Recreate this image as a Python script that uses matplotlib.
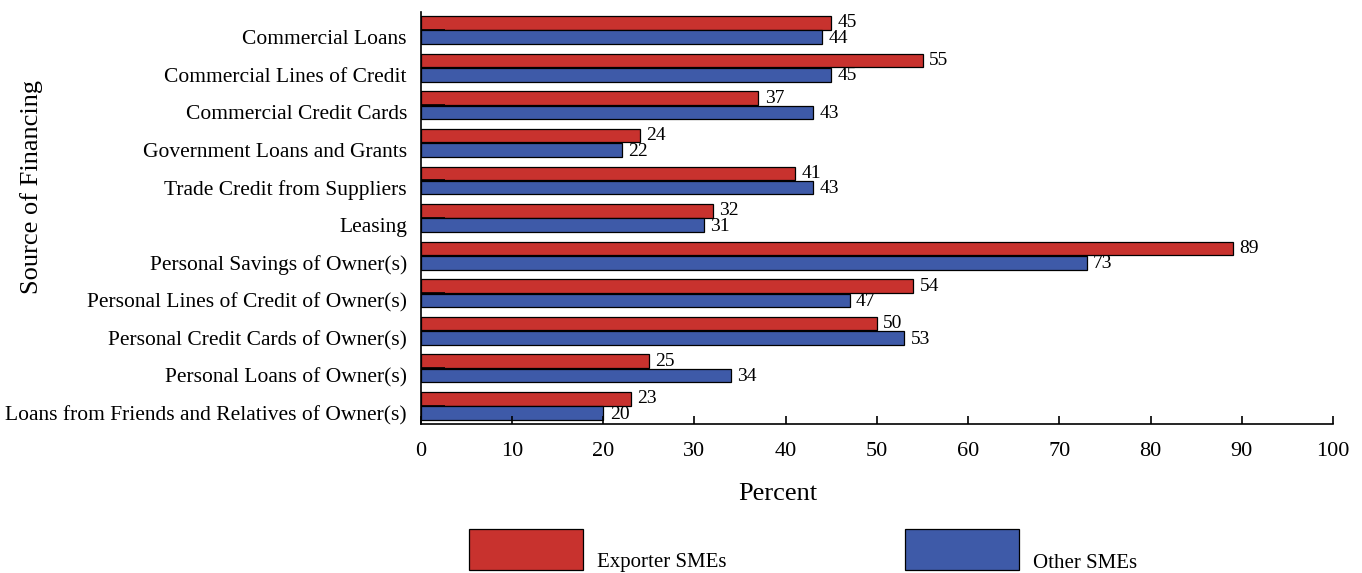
import matplotlib
matplotlib.use("Agg")
import matplotlib.pyplot as plt
from matplotlib.patches import Rectangle
import numpy as np

plt.rcParams['font.family'] = ['Liberation Serif', 'DejaVu Serif']

categories = ['Commercial Loans', 'Commercial Lines of Credit', 'Commercial Credit Cards',
              'Government Loans and Grants', 'Trade Credit from Suppliers', 'Leasing',
              'Personal Savings of Owner(s)', 'Personal Lines of Credit of Owner(s)',
              'Personal Credit Cards of Owner(s)', 'Personal Loans of Owner(s)',
              'Loans from Friends and Relatives of Owner(s)']
exporter = [45, 55, 37, 24, 41, 32, 89, 54, 50, 25, 23]
other = [44, 45, 43, 22, 43, 31, 73, 47, 53, 34, 20]
series_names = ['Exporter SMEs', 'Other SMEs']
colors = ['#C8322E', '#3E5AA8']

fig = plt.figure(figsize=(13.62, 5.73), dpi=100)
ax = fig.add_axes([0.309, 0.26, 0.6697, 0.719])

y = np.arange(len(categories))
h = 0.36
off = 0.19
ax.barh(y - off, exporter, height=h, color=colors[0], edgecolor='black', linewidth=0.9)
ax.barh(y + off, other, height=h, color=colors[1], edgecolor='black', linewidth=0.9)

for i in range(len(categories)):
    ax.text(exporter[i] + 0.7, y[i] - off, str(exporter[i]), va='center', ha='left', fontsize=14)
    ax.text(other[i] + 0.7, y[i] + off + 0.03, str(other[i]), va='center', ha='left', fontsize=14)

ax.set_xlim(0, 100)
ax.set_ylim(len(categories) - 1 + 0.48, -0.48)
ax.set_xticks(np.arange(0, 101, 10))
ax.tick_params(axis='x', direction='in', length=6, width=1.2, labelsize=16, pad=13)

# tick marks between bars, labels on the lower bar
ax.set_yticks(y)
ax.set_yticklabels([])
ax.tick_params(axis='y', which='major', direction='in', length=17, width=1.2)
ax.set_yticks(y + off, minor=True)
ax.set_yticklabels(categories, minor=True)
ax.tick_params(axis='y', which='minor', length=0, labelsize=15.5, pad=10)

for s in ['top', 'right']:
    ax.spines[s].set_visible(False)
ax.spines['left'].set_linewidth(1.2)
ax.spines['bottom'].set_linewidth(1.2)

ax.set_xlabel('Percent', fontsize=19)
ax.xaxis.set_label_coords((778 - 421) / 912, -(494 - 424) / 412, transform=ax.transAxes)
ax.xaxis.label.set_va('center')
fig.text(32 / 1362, 1 - 187 / 573, 'Source of Financing', rotation=90, ha='center', va='center', fontsize=19)

# legend drawn below the axes
legend_x = [469, 905]
for k in range(2):
    fig.add_artist(Rectangle((legend_x[k] / 1362, 3 / 573), 114 / 1362, 41 / 573,
                             transform=fig.transFigure, facecolor=colors[k],
                             edgecolor='black', linewidth=0.9))
    fig.text((legend_x[k] + 128) / 1362, 10 / 573, series_names[k], ha='left', va='center', fontsize=15)

fig.savefig('out.png', dpi=100)
